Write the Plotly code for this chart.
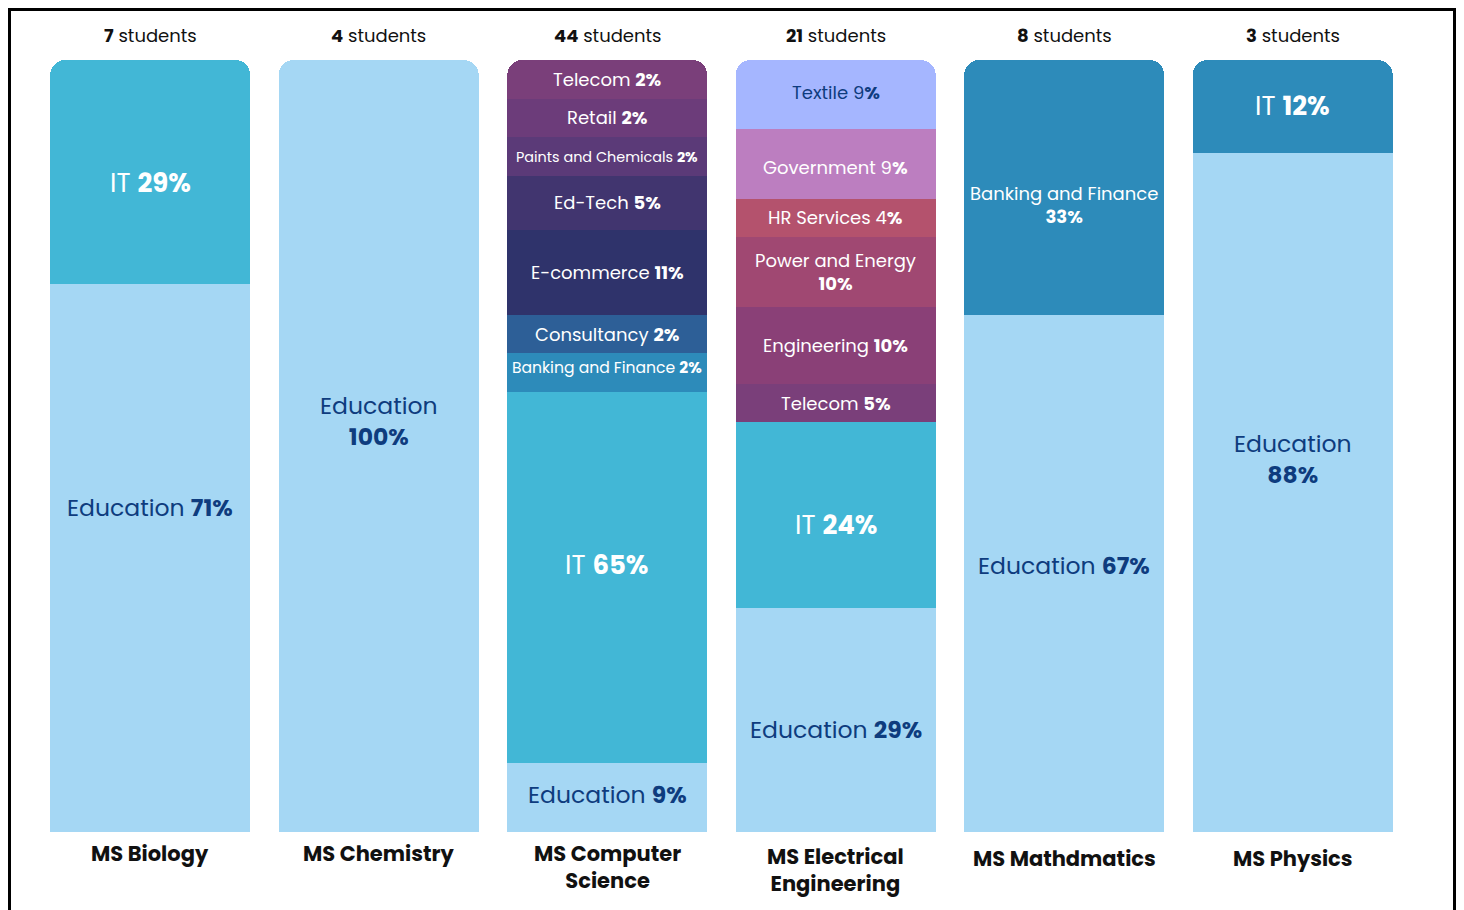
import plotly.graph_objects as go

# ---------------- data ----------------
programs = ["MS Biology", "MS Chemistry", "MS Computer<br>Science",
            "MS Electrical<br>Engineering", "MS Mathdmatics", "MS Physics"]
students = [7, 4, 44, 21, 8, 3]

# segments listed bottom -> top; "share" = drawn height (%), "label" = printed percentage
bio_sectors = ["Education", "IT"]
bio_share = [71, 29]
bio_label = ["71", "29"]

chem_sectors = ["Education"]
chem_share = [100]
chem_label = ["100"]

cs_sectors = ["Education", "IT", "Banking and Finance", "Consultancy", "E-commerce",
              "Ed-Tech", "Paints and Chemicals", "Retail", "Telecom"]
cs_share = [9, 48, 5, 5, 11, 7, 5, 5, 5]
cs_label = ["9", "65", "2", "2", "11", "5", "2", "2", "2"]

ee_sectors = ["Education", "IT", "Telecom", "Engineering", "Power and Energy",
              "HR Services", "Government", "Textile"]
ee_share = [29, 24.1, 4.9, 10, 9.1, 4.9, 9.1, 8.9]
ee_label = ["29", "24", "5", "10", "10", "4", "9", "9"]

math_sectors = ["Education", "Banking and Finance"]
math_share = [67, 33]
math_label = ["67", "33"]

phys_sectors = ["Education", "IT"]
phys_share = [88, 12]
phys_label = ["88", "12"]

stacks = [
    (bio_sectors, bio_share, bio_label),
    (chem_sectors, chem_share, chem_label),
    (cs_sectors, cs_share, cs_label),
    (ee_sectors, ee_share, ee_label),
    (math_sectors, math_share, math_label),
    (phys_sectors, phys_share, phys_label),
]

# ---------------- styles ----------------
FONT = "Poppins, 'Open Sans', 'Noto Sans', sans-serif"
NAVY = "#0E3C7E"
colors = {
    "Education": "#A5D7F4", "IT": "#42B7D6", "Banking and Finance": "#2D8BBA",
    "Consultancy": "#2D5F97", "E-commerce": "#2F336B", "Ed-Tech": "#41356F",
    "Paints and Chemicals": "#5B3A78", "Retail": "#6C3C7A", "Telecom": "#7A3F7A",
    "Textile": "#A5B6FF", "Government": "#BC7EC0", "HR Services": "#B4526D",
    "Power and Energy": "#A04872", "Engineering": "#8A4077",
}
color_override = {(5, "IT"): "#2D8BBA"}
dark_text = {"Education", "Textile"}
two_line = {(1, "Education"), (3, "Power and Energy"), (4, "Banking and Finance"), (5, "Education")}
plain_number = {(3, "Textile"), (3, "Government"), (3, "HR Services")}
big_font = {"Education": 23.5, "IT": 26}
small_font = {(2, "Paints and Chemicals"): 14.4, (2, "Banking and Finance"): 15.6}
nudge = {(0, "IT"): -11, (0, "Education"): 50, (1, "Education"): 25, (2, "IT"): 12,
         (2, "Banking and Finance"): 5, (2, "Education"): 3, (3, "IT"): -10, (3, "Education"): -9,
         (3, "Government"): -4, (3, "Textile"): 2, (4, "Banking and Finance"): -18,
         (4, "Education"): 8, (5, "Education"): 33}
cat_shift = [-5, -5, -5, -8, -10, -10]

# page body has an 8px margin, so the figure is 8px smaller than the window
W, H = 1456, 902
ML, MR, MT, MB = 28, 57, 52, 78

fig = go.Figure()
nlev = max(len(s[0]) for s in stacks)
for lev in range(nlev):
    ys, cols = [], []
    for i, (sec, sh, lb) in enumerate(stacks):
        if lev < len(sec):
            ys.append(sh[lev])
            cols.append(color_override.get((i, sec[lev]), colors[sec[lev]]))
        else:
            ys.append(None)
            cols.append("rgba(0,0,0,0)")
    fig.add_trace(go.Bar(x=list(range(len(programs))), y=ys,
                         marker=dict(color=cols, line=dict(width=0)),
                         width=0.875, hoverinfo="skip", showlegend=False))

annotations = []
for i, (sec, sh, lb) in enumerate(stacks):
    base = 0
    for s, v, p in zip(sec, sh, lb):
        mid = base + v / 2
        base += v
        key = (i, s)
        if key in plain_number:
            pct = f"{p}<b>%</b>"
        else:
            pct = f"<b>{p}%</b>"
        sep = "<br>" if key in two_line else " "
        size = small_font.get(key, big_font.get(s, 18))
        annotations.append(dict(
            x=i, y=mid, xref="x", yref="y", text=f"{s}{sep}{pct}", showarrow=False,
            yshift=nudge.get(key, 0),
            font=dict(family=FONT, size=size, color=NAVY if s in dark_text else "white")))
    # header
    annotations.append(dict(x=i, y=1, xref="x", yref="paper", text=f"<b>{students[i]}</b> students",
                            showarrow=False, yanchor="middle", yshift=25,
                            font=dict(family=FONT, size=18, color="#111111")))
    # category label
    annotations.append(dict(x=i, y=0, xref="x", yref="paper", text=f"<b>{programs[i]}</b>",
                            showarrow=False, yanchor="top", yshift=cat_shift[i],
                            font=dict(family=FONT, size=21, color="#111111")))

pw, ph = W - ML - MR, H - MT - MB
def px_x(v):
    return (v - ML) / pw
def px_y(v):
    return (H - MB - v) / ph

fig.update_layout(
    width=W, height=H,
    margin=dict(l=ML, r=MR, t=MT, b=MB),
    paper_bgcolor="white", plot_bgcolor="white",
    barmode="stack", barcornerradius=15,
    xaxis=dict(range=[-0.5, 5.5], visible=False, fixedrange=True),
    yaxis=dict(range=[0, 100], visible=False, fixedrange=True),
    annotations=annotations,
    shapes=[dict(type="rect", xref="paper", yref="paper",
                 x0=px_x(1.5), x1=px_x(1446.5), y0=px_y(930), y1=px_y(1.5),
                 line=dict(color="black", width=3), fillcolor="rgba(0,0,0,0)", layer="above")],
)

fig.write_html("out.html")
